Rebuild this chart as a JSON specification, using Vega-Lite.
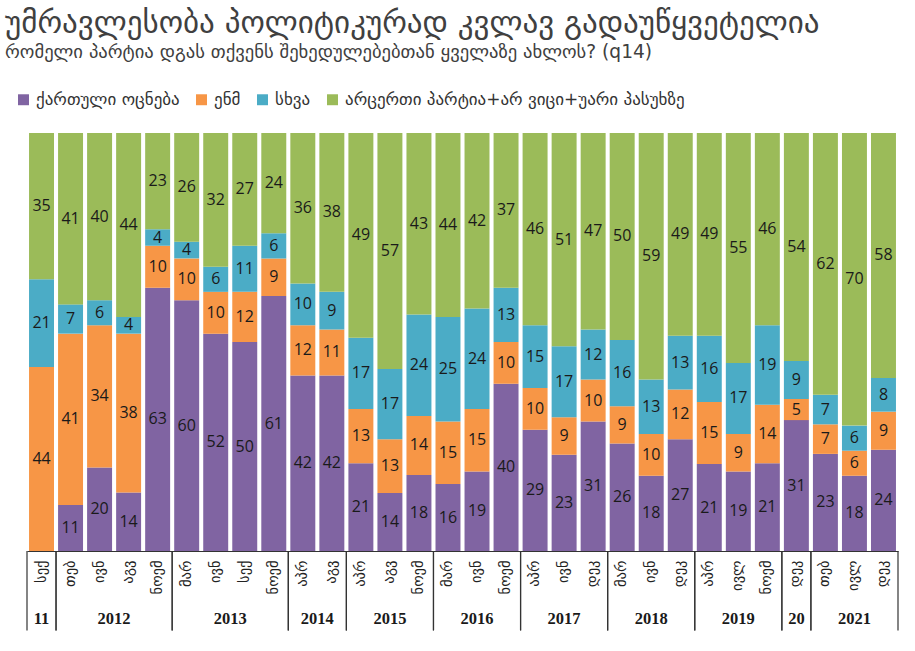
{
  "$schema": "https://vega.github.io/schema/vega-lite/v6.json",
  "width": 871,
  "height": 418,
  "autosize": "none",
  "padding": {"left": 27, "top": 133, "right": 17, "bottom": 100},
  "background": "white",
  "config": {"view": {"stroke": null}},
  "title": {
    "text": "უმრავლესობა პოლიტიკურად კვლავ გადაუწყვეტელია",
    "subtitle": "რომელი პარტია დგას თქვენს შეხედულებებთან ყველაზე ახლოს? (q14)",
    "anchor": "start",
    "frame": "group",
    "dx": -22,
    "offset": 28,
    "font": "DejaVu Sans",
    "fontSize": 31,
    "fontWeight": "normal",
    "color": "#404040",
    "subtitleFont": "DejaVu Sans",
    "subtitleFontSize": 18.6,
    "subtitleColor": "#404040",
    "subtitlePadding": 3
  },
  "datasets": {
    "bars": [
      {"key": "2011-09 სექ", "year": "11", "ქართული ოცნება": 0, "ენმ": 44, "სხვა": 21, "არცერთი პარტია+არ ვიცი+უარი პასუხზე": 35},
      {"key": "2012-02 თებ", "year": "2012", "ქართული ოცნება": 11, "ენმ": 41, "სხვა": 7, "არცერთი პარტია+არ ვიცი+უარი პასუხზე": 41},
      {"key": "2012-06 ივნ", "year": "2012", "ქართული ოცნება": 20, "ენმ": 34, "სხვა": 6, "არცერთი პარტია+არ ვიცი+უარი პასუხზე": 40},
      {"key": "2012-08 აგვ", "year": "2012", "ქართული ოცნება": 14, "ენმ": 38, "სხვა": 4, "არცერთი პარტია+არ ვიცი+უარი პასუხზე": 44},
      {"key": "2012-11 ნოემ", "year": "2012", "ქართული ოცნება": 63, "ენმ": 10, "სხვა": 4, "არცერთი პარტია+არ ვიცი+უარი პასუხზე": 23},
      {"key": "2013-03 მარ", "year": "2013", "ქართული ოცნება": 60, "ენმ": 10, "სხვა": 4, "არცერთი პარტია+არ ვიცი+უარი პასუხზე": 26},
      {"key": "2013-06 ივნ", "year": "2013", "ქართული ოცნება": 52, "ენმ": 10, "სხვა": 6, "არცერთი პარტია+არ ვიცი+უარი პასუხზე": 32},
      {"key": "2013-09 სექ", "year": "2013", "ქართული ოცნება": 50, "ენმ": 12, "სხვა": 11, "არცერთი პარტია+არ ვიცი+უარი პასუხზე": 27},
      {"key": "2013-11 ნოემ", "year": "2013", "ქართული ოცნება": 61, "ენმ": 9, "სხვა": 6, "არცერთი პარტია+არ ვიცი+უარი პასუხზე": 24},
      {"key": "2014-04 აპრ", "year": "2014", "ქართული ოცნება": 42, "ენმ": 12, "სხვა": 10, "არცერთი პარტია+არ ვიცი+უარი პასუხზე": 36},
      {"key": "2014-08 აგვ", "year": "2014", "ქართული ოცნება": 42, "ენმ": 11, "სხვა": 9, "არცერთი პარტია+არ ვიცი+უარი პასუხზე": 38},
      {"key": "2015-04 აპრ", "year": "2015", "ქართული ოცნება": 21, "ენმ": 13, "სხვა": 17, "არცერთი პარტია+არ ვიცი+უარი პასუხზე": 49},
      {"key": "2015-08 აგვ", "year": "2015", "ქართული ოცნება": 14, "ენმ": 13, "სხვა": 17, "არცერთი პარტია+არ ვიცი+უარი პასუხზე": 57},
      {"key": "2015-11 ნოემ", "year": "2015", "ქართული ოცნება": 18, "ენმ": 14, "სხვა": 24, "არცერთი პარტია+არ ვიცი+უარი პასუხზე": 43},
      {"key": "2016-03 მარ", "year": "2016", "ქართული ოცნება": 16, "ენმ": 15, "სხვა": 25, "არცერთი პარტია+არ ვიცი+უარი პასუხზე": 44},
      {"key": "2016-06 ივნ", "year": "2016", "ქართული ოცნება": 19, "ენმ": 15, "სხვა": 24, "არცერთი პარტია+არ ვიცი+უარი პასუხზე": 42},
      {"key": "2016-11 ნოემ", "year": "2016", "ქართული ოცნება": 40, "ენმ": 10, "სხვა": 13, "არცერთი პარტია+არ ვიცი+უარი პასუხზე": 37},
      {"key": "2017-04 აპრ", "year": "2017", "ქართული ოცნება": 29, "ენმ": 10, "სხვა": 15, "არცერთი პარტია+არ ვიცი+უარი პასუხზე": 46},
      {"key": "2017-06 ივნ", "year": "2017", "ქართული ოცნება": 23, "ენმ": 9, "სხვა": 17, "არცერთი პარტია+არ ვიცი+უარი პასუხზე": 51},
      {"key": "2017-12 დეკ", "year": "2017", "ქართული ოცნება": 31, "ენმ": 10, "სხვა": 12, "არცერთი პარტია+არ ვიცი+უარი პასუხზე": 47},
      {"key": "2018-03 მარ", "year": "2018", "ქართული ოცნება": 26, "ენმ": 9, "სხვა": 16, "არცერთი პარტია+არ ვიცი+უარი პასუხზე": 50},
      {"key": "2018-06 ივნ", "year": "2018", "ქართული ოცნება": 18, "ენმ": 10, "სხვა": 13, "არცერთი პარტია+არ ვიცი+უარი პასუხზე": 59},
      {"key": "2018-12 დეკ", "year": "2018", "ქართული ოცნება": 27, "ენმ": 12, "სხვა": 13, "არცერთი პარტია+არ ვიცი+უარი პასუხზე": 49},
      {"key": "2019-04 აპრ", "year": "2019", "ქართული ოცნება": 21, "ენმ": 15, "სხვა": 16, "არცერთი პარტია+არ ვიცი+უარი პასუხზე": 49},
      {"key": "2019-07 ივლ", "year": "2019", "ქართული ოცნება": 19, "ენმ": 9, "სხვა": 17, "არცერთი პარტია+არ ვიცი+უარი პასუხზე": 55},
      {"key": "2019-11 ნოემ", "year": "2019", "ქართული ოცნება": 21, "ენმ": 14, "სხვა": 19, "არცერთი პარტია+არ ვიცი+უარი პასუხზე": 46},
      {"key": "2020-12 დეკ", "year": "20", "ქართული ოცნება": 31, "ენმ": 5, "სხვა": 9, "არცერთი პარტია+არ ვიცი+უარი პასუხზე": 54},
      {"key": "2021-02 თებ", "year": "2021", "ქართული ოცნება": 23, "ენმ": 7, "სხვა": 7, "არცერთი პარტია+არ ვიცი+უარი პასუხზე": 62},
      {"key": "2021-07 ივლ", "year": "2021", "ქართული ოცნება": 18, "ენმ": 6, "სხვა": 6, "არცერთი პარტია+არ ვიცი+უარი პასუხზე": 70},
      {"key": "2021-12 დეკ", "year": "2021", "ქართული ოცნება": 24, "ენმ": 9, "სხვა": 8, "არცერთი პარტია+არ ვიცი+უარი პასუხზე": 58}
    ],
    "groups": [
      {"year": "11", "first": "2011-09 სექ", "last": "2011-09 სექ"},
      {"year": "2012", "first": "2012-02 თებ", "last": "2012-11 ნოემ"},
      {"year": "2013", "first": "2013-03 მარ", "last": "2013-11 ნოემ"},
      {"year": "2014", "first": "2014-04 აპრ", "last": "2014-08 აგვ"},
      {"year": "2015", "first": "2015-04 აპრ", "last": "2015-11 ნოემ"},
      {"year": "2016", "first": "2016-03 მარ", "last": "2016-11 ნოემ"},
      {"year": "2017", "first": "2017-04 აპრ", "last": "2017-12 დეკ"},
      {"year": "2018", "first": "2018-03 მარ", "last": "2018-12 დეკ"},
      {"year": "2019", "first": "2019-04 აპრ", "last": "2019-11 ნოემ"},
      {"year": "20", "first": "2020-12 დეკ", "last": "2020-12 დეკ"},
      {"year": "2021", "first": "2021-02 თებ", "last": "2021-12 დეკ"}
    ]
  },
  "layer": [
    {
      "layer": [
        {
          "data": {"name": "bars"},
          "transform": [
            {"fold": ["ქართული ოცნება", "ენმ", "სხვა", "არცერთი პარტია+არ ვიცი+უარი პასუხზე"], "as": ["party", "value"]},
            {"calculate": "indexof(['ქართული ოცნება', 'ენმ', 'სხვა', 'არცერთი პარტია+არ ვიცი+უარი პასუხზე'], datum.party)", "as": "ord"}
          ],
          "mark": {"type": "bar", "width": {"band": 0.86}},
          "encoding": {
            "x": {
              "field": "key", "type": "nominal", "title": null,
              "scale": {"paddingInner": 0, "paddingOuter": 0},
              "axis": {
                "labelAngle": -90, "labelAlign": "right", "labelBaseline": "middle",
                "labelExpr": "split(datum.value, ' ')[1]",
                "labelFont": "DejaVu Sans", "labelFontSize": 14.5, "labelColor": "#222222",
                "labelPadding": 9, "ticks": false, "domainColor": "#333333", "domainWidth": 1.2
              }
            },
            "y": {"field": "value", "type": "quantitative", "stack": "normalize", "scale": {"domain": [0, 1]}, "axis": null},
            "color": {
              "field": "party", "type": "nominal",
              "scale": {
                "domain": ["ქართული ოცნება", "ენმ", "სხვა", "არცერთი პარტია+არ ვიცი+უარი პასუხზე"],
                "range": ["#8064A2", "#F79646", "#4BACC6", "#9BBB59"]
              },
              "legend": {
                "orient": "none", "legendX": -12, "legendY": -42, "direction": "horizontal",
                "title": null, "symbolType": "square", "symbolSize": 120, "symbolStrokeWidth": 0,
                "labelFont": "DejaVu Sans", "labelFontSize": 17, "labelColor": "#333333",
                "labelLimit": 700, "columnPadding": 13, "symbolOffset": 0, "labelOffset": 4
              }
            },
            "order": {"field": "ord", "type": "quantitative"}
          }
        },
        {
          "data": {"name": "bars"},
          "transform": [
            {"fold": ["ქართული ოცნება", "ენმ", "სხვა", "არცერთი პარტია+არ ვიცი+უარი პასუხზე"], "as": ["party", "value"]},
            {"calculate": "indexof(['ქართული ოცნება', 'ენმ', 'სხვა', 'არცერთი პარტია+არ ვიცი+უარი პასუხზე'], datum.party)", "as": "ord"},
            {"filter": "datum.value > 0"}
          ],
          "mark": {"type": "text", "font": "Open Sans", "fontSize": 16, "color": "#1a1a1a", "baseline": "middle"},
          "encoding": {
            "x": {"field": "key", "type": "nominal", "title": null},
            "y": {"field": "value", "type": "quantitative", "stack": "normalize", "bandPosition": 0.5, "scale": {"domain": [0, 1]}, "axis": null},
            "detail": {"field": "party"},
            "order": {"field": "ord", "type": "quantitative"},
            "text": {"field": "value", "type": "quantitative"}
          }
        },
        {
          "data": {"name": "groups"},
          "mark": {"type": "rule", "color": "#333333", "strokeWidth": 1.2},
          "encoding": {
            "x": {"field": "first", "type": "nominal", "bandPosition": 0, "title": null},
            "y": {"datum": 0, "type": "quantitative", "scale": {"domain": [0, 1]}, "axis": null},
            "y2": {"datum": -0.19}
          }
        },
        {
          "data": {"name": "groups"},
          "mark": {"type": "rule", "color": "#333333", "strokeWidth": 1.2},
          "encoding": {
            "x": {"field": "last", "type": "nominal", "bandPosition": 1, "title": null},
            "y": {"datum": 0, "type": "quantitative", "scale": {"domain": [0, 1]}, "axis": null},
            "y2": {"datum": -0.19}
          }
        }
      ]
    },
    {
      "data": {"name": "bars"},
      "transform": [
        {"window": [{"op": "row_number", "as": "idx"}], "sort": [{"field": "key"}]},
        {"aggregate": [{"op": "mean", "field": "idx", "as": "mi"}], "groupby": ["year"]}
      ],
      "mark": {"type": "text", "font": "Liberation Serif", "fontWeight": "bold", "fontSize": 16.5, "color": "#1a1a1a", "baseline": "middle"},
      "encoding": {
        "x": {"field": "mi", "type": "quantitative", "scale": {"domain": [0.5, 30.5]}, "axis": null, "title": null},
        "y": {"datum": -0.163, "type": "quantitative", "scale": {"domain": [0, 1]}, "axis": null},
        "text": {"field": "year"}
      }
    }
  ],
  "resolve": {"scale": {"x": "independent"}}
}
